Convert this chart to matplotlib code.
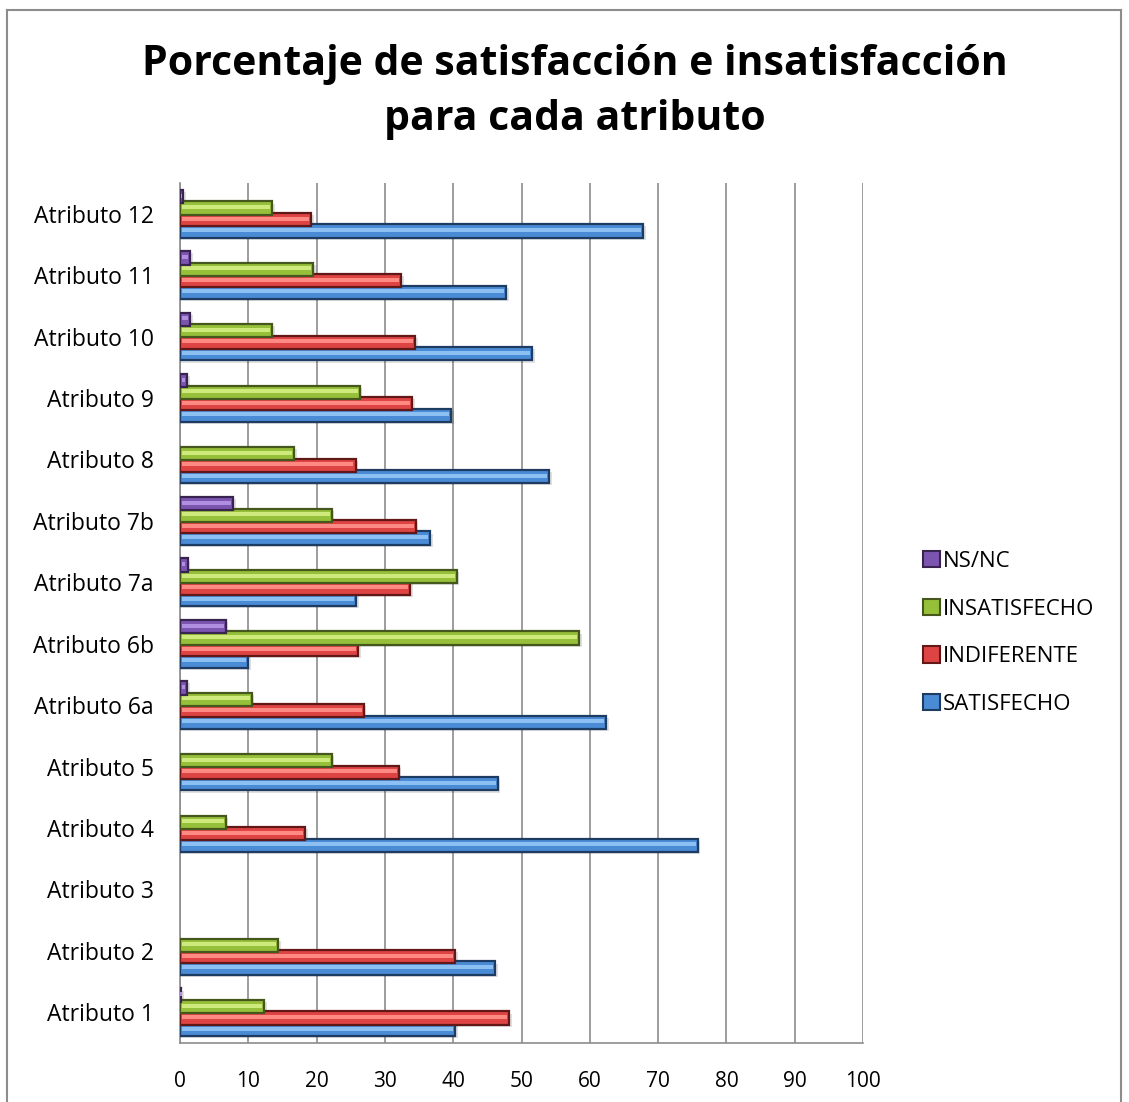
import matplotlib
matplotlib.use("Agg")
import matplotlib.pyplot as plt
from matplotlib.lines import Line2D
from matplotlib.patches import Patch
import numpy as np

categories = ["Atributo 1", "Atributo 2", "Atributo 3", "Atributo 4", "Atributo 5",
              "Atributo 6a", "Atributo 6b", "Atributo 7a", "Atributo 7b", "Atributo 8",
              "Atributo 9", "Atributo 10", "Atributo 11", "Atributo 12"]
satisfecho    = [40.3, 46.1, 0, 75.8, 46.5, 62.4, 10.0, 25.8, 36.6, 54.0, 39.7, 51.6, 47.7, 67.8]
indiferente   = [48.2, 40.3, 0, 18.3, 32.0, 26.9, 26.1, 33.7, 34.5, 25.7, 34.0, 34.4, 32.4, 19.2]
insatisfecho  = [12.3, 14.4, 0, 6.7, 22.2, 10.5, 58.4, 40.5, 22.2, 16.7, 26.3, 13.5, 19.5, 13.5]
nsnc          = [0.2, 0, 0, 0, 0, 1.0, 6.7, 1.1, 7.8, 0, 1.0, 1.5, 1.5, 0.5]
series_names = ["SATISFECHO", "INDIFERENTE", "INSATISFECHO", "NS/NC"]
xticks = [0, 10, 20, 30, 40, 50, 60, 70, 80, 90, 100]
title = "Porcentaje de satisfacción e insatisfacción\npara cada atributo"

face = ["#4A8BD6", "#DE4444", "#96C03A", "#7B55B0"]
light = ["#8CC0F2", "#FF8A84", "#CFEA7C", "#B08EE0"]
edge = ["#1E3B62", "#631818", "#45571C", "#38244F"]

plt.rcParams["font.family"] = ["Open Sans", "DejaVu Sans"]

fig = plt.figure(figsize=(11.29, 11.02), dpi=100)
ax = fig.add_axes([180 / 1129, 1 - 1043 / 1102, 683 / 1129, 860 / 1102])

y = np.arange(len(categories))
step = 0.187
h = 0.215
data = [satisfecho, indiferente, insatisfecho, nsnc]
for i, vals in enumerate(data):
    off = (i - 1.5) * step
    vals = np.array(vals)
    mask = vals > 0
    ax.barh(y[mask] + off - 0.035, vals[mask] + 0.4, height=h, left=0.0,
            color="#000000", alpha=0.12, linewidth=0, zorder=2 + i * 0.1)
    ax.barh(y[mask] + off, vals[mask], height=h, color=face[i],
            edgecolor=edge[i], linewidth=1.6, zorder=3 + i * 0.1)
    ax.barh(y[mask] + off + 0.015, vals[mask] - 0.6, left=0.3, height=h * 0.3,
            color=light[i], linewidth=0, zorder=3.05 + i * 0.1)

ax.set_xlim(0, 100)
ax.set_ylim(-0.5, 13.5)
ax.set_xticks(xticks)
ax.set_xticklabels([str(t) for t in xticks], fontsize=15)
ax.set_yticks(y)
ax.set_yticklabels(categories, fontsize=16.5)
ax.tick_params(axis="both", length=0)
ax.tick_params(axis="x", pad=20)
ax.tick_params(axis="y", pad=19)
ax.grid(axis="x", color="#8C8C8C", linewidth=1.2, zorder=0)
ax.set_axisbelow(True)
for s in ["top", "right"]:
    ax.spines[s].set_visible(False)
for s in ["left", "bottom"]:
    ax.spines[s].set_color("#8C8C8C")
    ax.spines[s].set_linewidth(1.2)

fig.text(575 / 1129, 1 - 92 / 1102, title, ha="center", va="center",
         fontsize=29.5, fontweight="bold", linespacing=1.45)

handles = [Patch(facecolor=face[i], edgecolor=edge[i], linewidth=1.5) for i in [3, 2, 1, 0]]
labels = [series_names[i] for i in [3, 2, 1, 0]]
leg = fig.legend(handles, labels, loc="center left", bbox_to_anchor=(903 / 1129, 1 - 633 / 1102),
                 frameon=False, fontsize=16, handlelength=0.75, handleheight=0.75,
                 handletextpad=0.15, labelspacing=1.2)

for xs, ys in [([7, 7], [1102, 10]), ([7, 1121], [10, 10]), ([1121, 1121], [10, 1102])]:
    fig.add_artist(Line2D([x / 1129 for x in xs], [1 - v / 1102 for v in ys],
                          color="#8C8C8C", linewidth=1.5, transform=fig.transFigure))

fig.savefig("out.png", dpi=100)
